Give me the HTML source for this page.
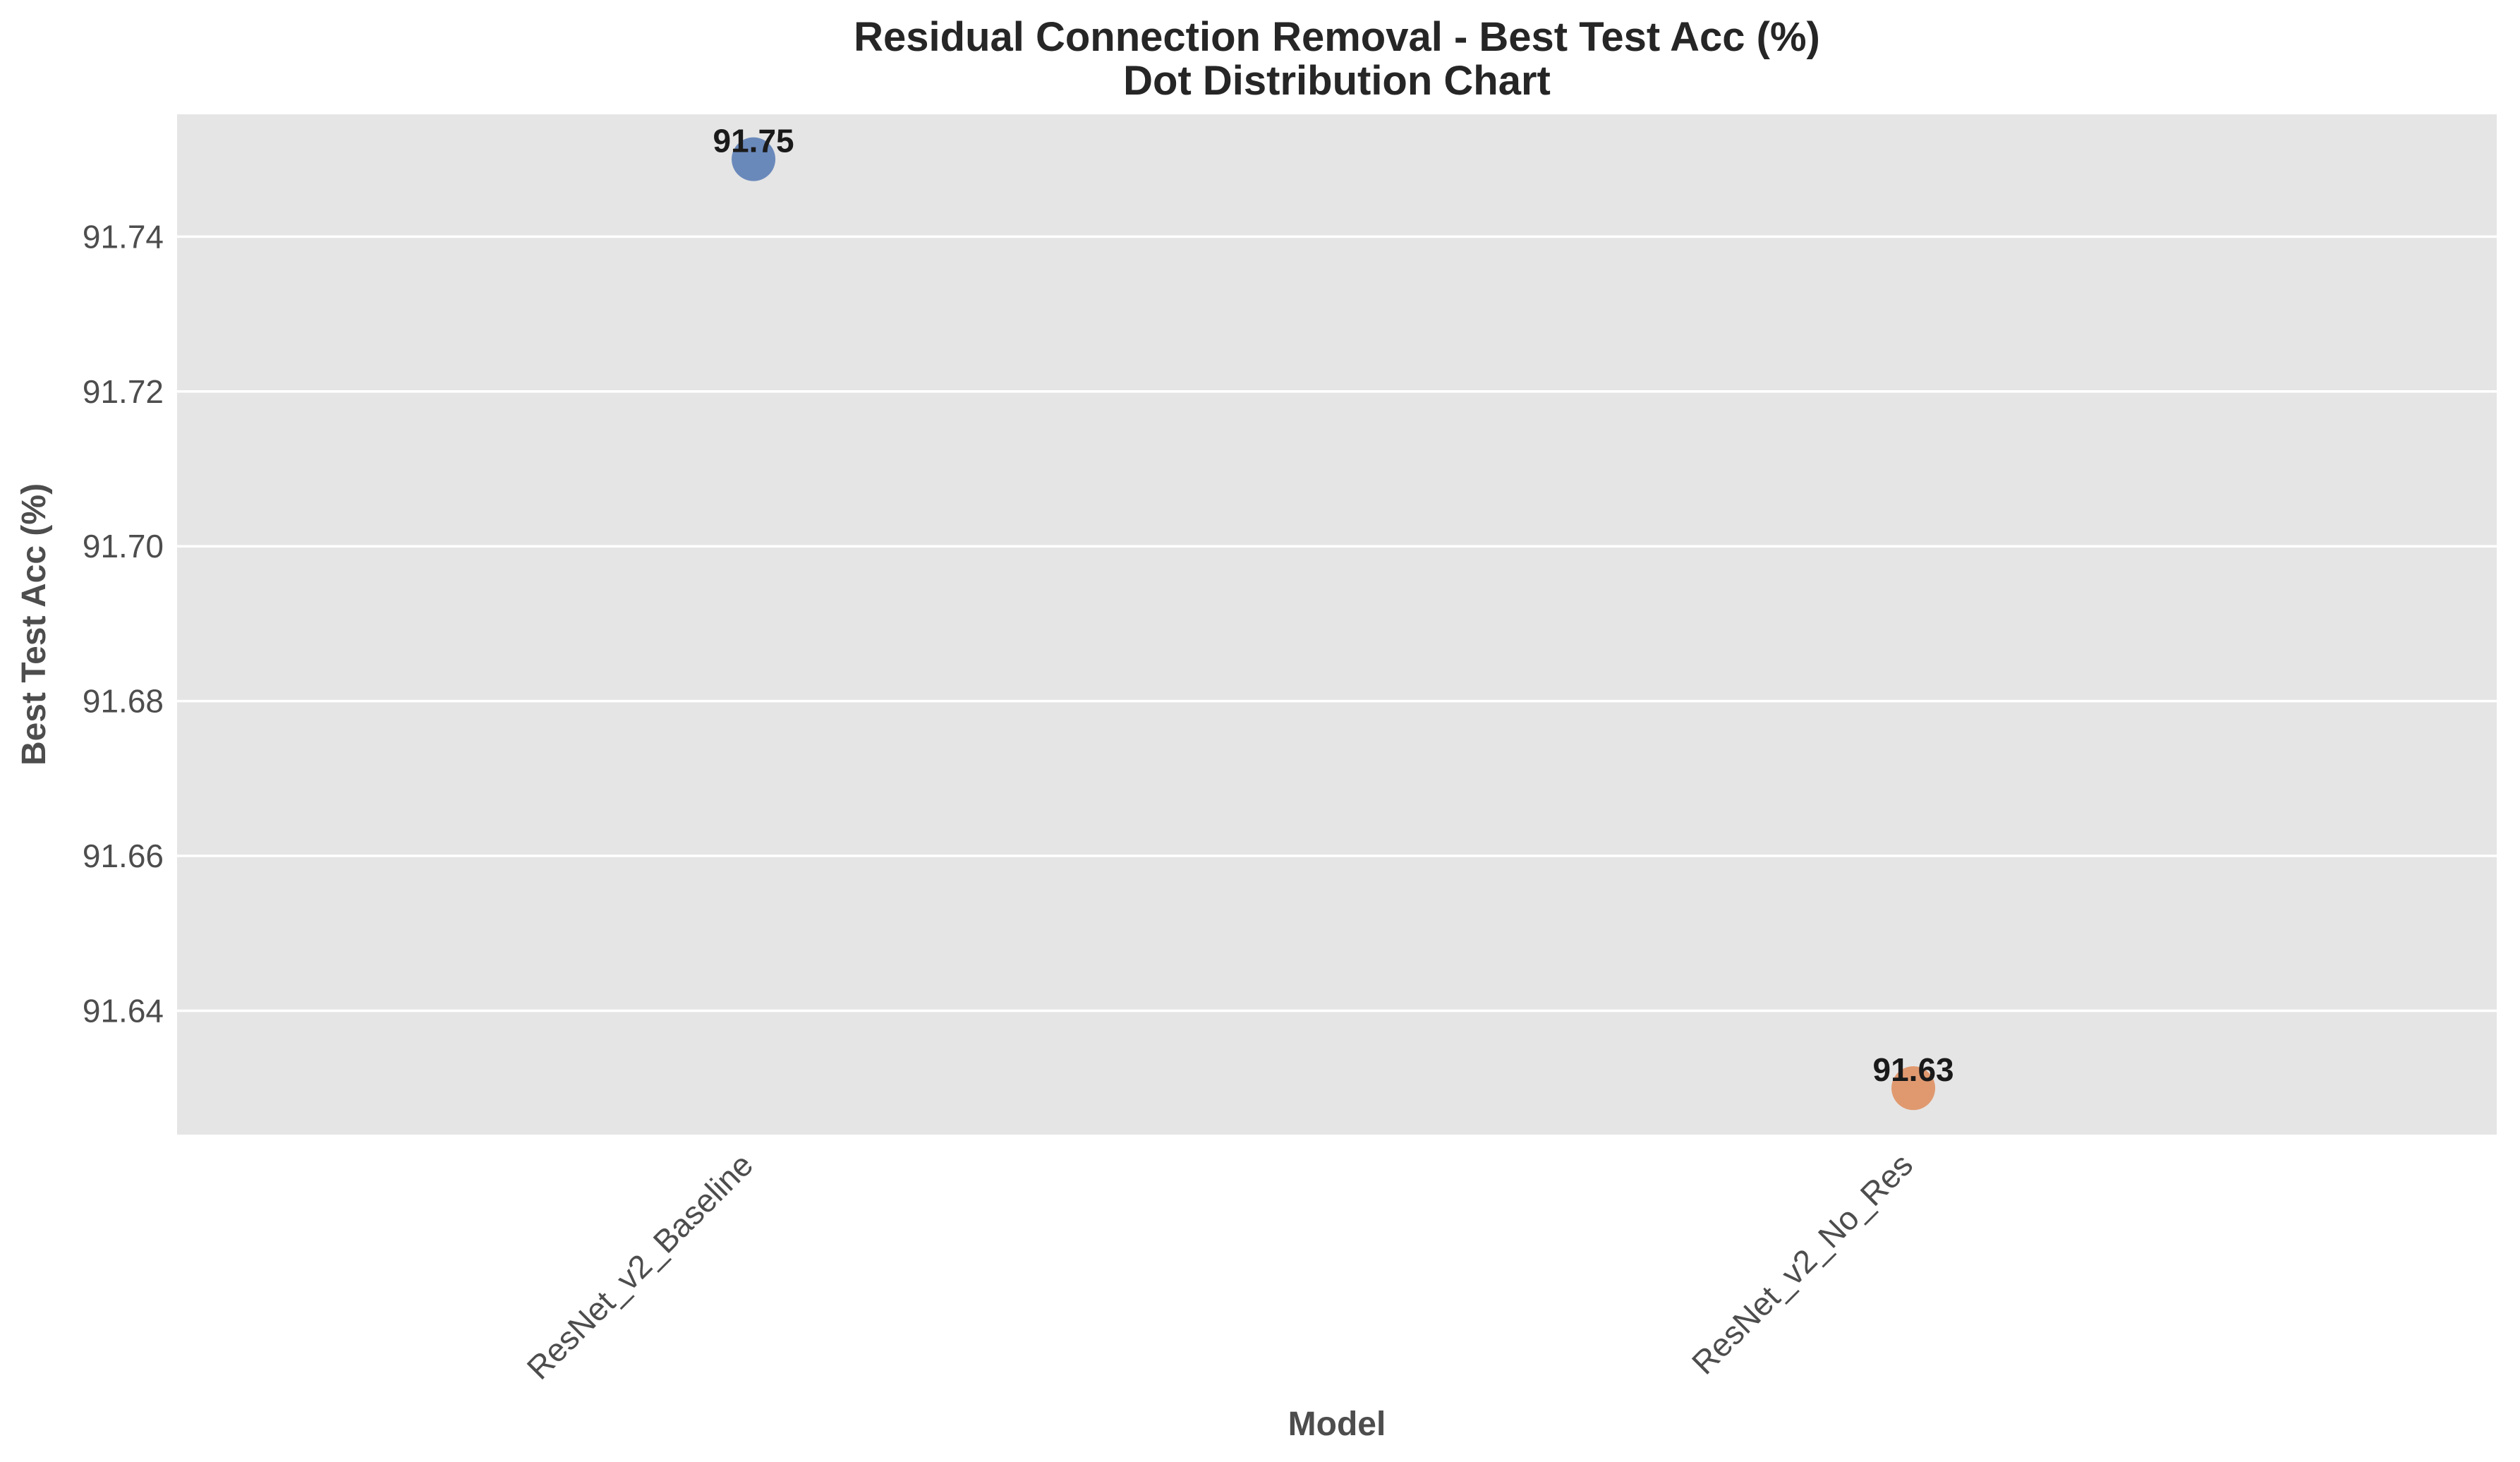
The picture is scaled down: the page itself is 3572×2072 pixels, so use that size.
<!DOCTYPE html>
<html><head><meta charset="utf-8"><style>
html,body{margin:0;padding:0;background:#fff;}
svg{display:block;font-family:"Liberation Sans",Arial,sans-serif;}
</style></head><body>
<svg id="chart" width="3572" height="2072" viewBox="0 0 3572 2072" xmlns="http://www.w3.org/2000/svg">
<rect x="251" y="162" width="3288" height="1446" fill="#e5e5e5"/>
<g id="grid"></g>
<g id="yticks"></g>
<g id="xticks"></g>
<g id="dots"></g>
<text x="1895" y="72" text-anchor="middle" font-size="58" font-weight="bold" fill="#262626">Residual Connection Removal - Best Test Acc (%)</text>
<text x="1895" y="134" text-anchor="middle" font-size="58" font-weight="bold" fill="#262626">Dot Distribution Chart</text>
<text transform="translate(64,885) rotate(-90)" text-anchor="middle" font-size="48" font-weight="bold" fill="#4d4d4d">Best Test Acc (%)</text>
<text x="1895" y="2034" text-anchor="middle" font-size="48" font-weight="bold" fill="#4d4d4d">Model</text>
</svg>
<script>
const categories = ["ResNet_v2_Baseline", "ResNet_v2_No_Res"];
const values = [91.75, 91.63];
const valueLabels = ["91.75", "91.63"];
const yTicks = [91.64, 91.66, 91.68, 91.70, 91.72, 91.74];
const yTickLabels = ["91.64", "91.66", "91.68", "91.70", "91.72", "91.74"];
const colors = ["#6a89bb", "#e0996f"];

const NS = "http://www.w3.org/2000/svg";
const L = 251, R = 3539, T = 162, B = 1608;
const yMin = 91.6240, yMax = 91.7558;
const xMin = -0.497, xMax = 1.503;
function yScale(v){ return B - (v - yMin) / (yMax - yMin) * (B - T); }
function xScale(i){ return L + (i - xMin) / (xMax - xMin) * (R - L); }
function mk(tag, attrs, parent){ const e = document.createElementNS(NS, tag); for (const k in attrs) e.setAttribute(k, attrs[k]); parent.appendChild(e); return e; }

const grid = document.getElementById('grid');
const yt = document.getElementById('yticks');
yTicks.forEach((t, i) => {
  const y = yScale(t);
  const ln = mk('line', {x1: L, x2: R, y1: y, y2: y, stroke: '#ffffff', 'stroke-width': 3.5}, grid);
  
  
  const tx = mk('text', {x: 232, y: y + 16, 'text-anchor': 'end', 'font-size': 46, fill: '#4d4d4d'}, yt);
  tx.textContent = yTickLabels[i];
  
  
});

const xt = document.getElementById('xticks');
categories.forEach((c, i) => {
  const x = xScale(i);
  const tx = mk('text', {transform: 'translate(' + (x + 2) + ',' + (B + 46) + ') rotate(-45)', 'text-anchor': 'end', 'font-size': 46, fill: '#4d4d4d'}, xt);
  tx.textContent = c;
  
  
});

const dots = document.getElementById('dots');
values.forEach((v, i) => {
  const x = xScale(i), y = yScale(v);
  const d = mk('circle', {cx: x, cy: y, r: 31, fill: colors[i]}, dots);
  
  
  const lb = mk('text', {x: x, y: y - 10, 'text-anchor': 'middle', 'font-size': 46, 'font-weight': 'bold', fill: '#1a1a1a'}, dots);
  lb.textContent = valueLabels[i];
  
  
});
</script>
</body></html>
